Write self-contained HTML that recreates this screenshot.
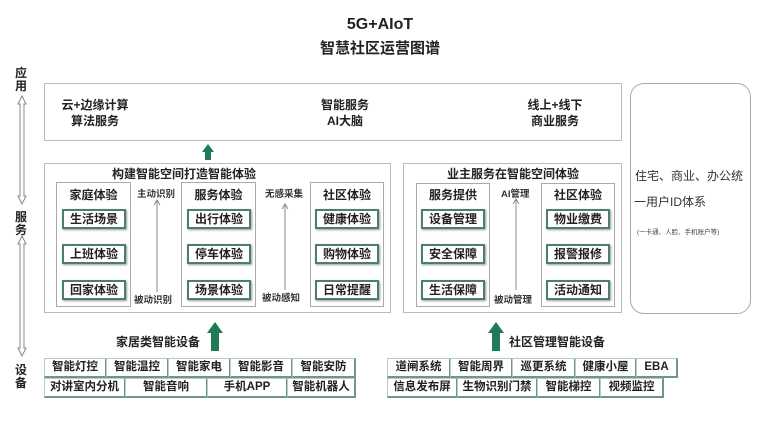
<!DOCTYPE html>
<html><head><meta charset="utf-8"><style>
*{margin:0;padding:0;box-sizing:border-box}
body{width:760px;height:428px;background:#fff;position:relative;overflow:hidden;font-family:"Liberation Sans","Noto Sans CJK SC",sans-serif;color:#222}
.a{position:absolute}
.t{font-weight:bold;text-align:center;white-space:nowrap}
.box{position:absolute;border:1px solid #bbb;background:#fff}
.sub{position:absolute;border:1px solid #aaa;background:#fff}
.it{position:absolute;width:64px;height:20px;border:2px solid #4a7f6c;box-shadow:1px 1px 2px #999;font-size:12px;font-weight:bold;text-align:center;line-height:16px;background:#fff}
.c{position:absolute;height:20px;border:1px solid #b9cbc6;border-right:2px solid #6f968c;border-bottom:2px solid #6f968c;font-size:11.5px;font-weight:bold;text-align:center;line-height:17px;background:#fff;white-space:nowrap;overflow:hidden}
.sm{font-size:9.5px;font-weight:bold;color:#333;white-space:nowrap}
</style></head><body>
<div class="a t" style="left:0;width:760px;top:16px;font-size:16px">5G+AIoT</div>
<div class="a t" style="left:0;width:760px;top:37px;font-size:15px">智慧社区运营图谱</div>

<div class="a t" style="left:14px;top:67px;font-size:12px;line-height:13px;width:14px">应<br>用</div>
<div class="a t" style="left:14px;top:211px;font-size:12px;line-height:13px;width:14px">服<br>务</div>
<div class="a t" style="left:14px;top:364px;font-size:12px;line-height:13px;width:14px">设<br>备</div>
<svg class="a" style="left:12px;top:92px" width="20" height="270">
<g fill="#fff" stroke="#888" stroke-width="1">
<path d="M6,12 L10,4 L14,12 L12,12 L12,104 L14,104 L10,112 L6,104 L8,104 L8,12Z"/>
<path d="M6,152 L10,144 L14,152 L12,152 L12,256 L14,256 L10,264 L6,256 L8,256 L8,152Z"/>
</g></svg>

<div class="box" style="left:44px;top:83px;width:578px;height:58px"></div>
<div class="a t" style="left:50px;top:97px;width:90px;font-size:12px;line-height:16px">云+边缘计算<br>算法服务</div>
<div class="a t" style="left:300px;top:97px;width:90px;font-size:12px;line-height:16px">智能服务<br>AI大脑</div>
<div class="a t" style="left:510px;top:97px;width:90px;font-size:12px;line-height:16px">线上+线下<br>商业服务</div>

<div class="a" style="left:630px;top:83px;width:121px;height:231px;border:1px solid #aaa;border-radius:14px"></div>
<div class="a" style="left:635px;top:167px;font-size:12px;white-space:nowrap;color:#333">住宅、商业、办公统</div>
<div class="a" style="left:634px;top:193px;font-size:12px;white-space:nowrap;color:#333">一用户ID体系</div>
<div class="a" style="left:637px;top:226px;font-size:6.5px;white-space:nowrap;color:#444">(一卡通、人脸、手机账户等)</div>

<div class="box" style="left:44px;top:163px;width:347px;height:150px"></div>
<div class="a t" style="left:44px;top:165px;width:280px;font-size:12px">构建智能空间打造智能体验</div>
<div class="sub" style="left:56px;top:182px;width:75px;height:125px"></div>
<div class="sub" style="left:181px;top:182px;width:75px;height:125px"></div>
<div class="sub" style="left:310px;top:182px;width:74px;height:125px"></div>
<div class="a t" style="left:56px;top:186px;width:75px;font-size:12px">家庭体验</div>
<div class="a t" style="left:181px;top:186px;width:75px;font-size:12px">服务体验</div>
<div class="a t" style="left:310px;top:186px;width:74px;font-size:12px">社区体验</div>
<div class="it" style="left:62px;top:209px">生活场景</div>
<div class="it" style="left:62px;top:244px">上班体验</div>
<div class="it" style="left:62px;top:280px">回家体验</div>
<div class="it" style="left:187px;top:209px">出行体验</div>
<div class="it" style="left:187px;top:244px">停车体验</div>
<div class="it" style="left:187px;top:280px">场景体验</div>
<div class="it" style="left:315px;top:209px">健康体验</div>
<div class="it" style="left:315px;top:244px">购物体验</div>
<div class="it" style="left:315px;top:280px">日常提醒</div>
<div class="a sm" style="left:137px;top:186px">主动识别</div>
<div class="a sm" style="left:134px;top:292px">被动识别</div>
<div class="a sm" style="left:265px;top:186px">无感采集</div>
<div class="a sm" style="left:262px;top:290px">被动感知</div>

<div class="box" style="left:403px;top:163px;width:219px;height:150px"></div>
<div class="a t" style="left:403px;top:165px;width:220px;font-size:12px">业主服务在智能空间体验</div>
<div class="sub" style="left:416px;top:183px;width:74px;height:124px"></div>
<div class="sub" style="left:541px;top:183px;width:74px;height:124px"></div>
<div class="a t" style="left:416px;top:186px;width:74px;font-size:12px">服务提供</div>
<div class="a t" style="left:541px;top:186px;width:74px;font-size:12px">社区体验</div>
<div class="it" style="left:421px;top:209px">设备管理</div>
<div class="it" style="left:421px;top:244px">安全保障</div>
<div class="it" style="left:421px;top:280px">生活保障</div>
<div class="it" style="left:546px;top:209px">物业缴费</div>
<div class="it" style="left:546px;top:244px">报警报修</div>
<div class="it" style="left:546px;top:280px">活动通知</div>
<div class="a sm" style="left:501px;top:186px">AI管理</div>
<div class="a sm" style="left:494px;top:292px">被动管理</div>

<div class="a t" style="left:116px;top:333px;font-size:12px">家居类智能设备</div>
<div class="a t" style="left:509px;top:333px;font-size:12px">社区管理智能设备</div>

<div class="c" style="left:44px;top:358px;width:63px">智能灯控</div>
<div class="c" style="left:106px;top:358px;width:63px">智能温控</div>
<div class="c" style="left:168px;top:358px;width:63px">智能家电</div>
<div class="c" style="left:230px;top:358px;width:63px">智能影音</div>
<div class="c" style="left:292px;top:358px;width:64px">智能安防</div>
<div class="c" style="left:44px;top:378px;width:82px">对讲室内分机</div>
<div class="c" style="left:125px;top:378px;width:83px">智能音响</div>
<div class="c" style="left:207px;top:378px;width:81px">手机APP</div>
<div class="c" style="left:287px;top:378px;width:69px">智能机器人</div>

<div class="c" style="left:387px;top:358px;width:64px">道闸系统</div>
<div class="c" style="left:450px;top:358px;width:63px">智能周界</div>
<div class="c" style="left:512px;top:358px;width:64px">巡更系统</div>
<div class="c" style="left:575px;top:358px;width:62px">健康小屋</div>
<div class="c" style="left:636px;top:358px;width:42px">EBA</div>
<div class="c" style="left:387px;top:378px;width:71px">信息发布屏</div>
<div class="c" style="left:457px;top:378px;width:81px">生物识别门禁</div>
<div class="c" style="left:537px;top:378px;width:64px">智能梯控</div>
<div class="c" style="left:600px;top:378px;width:64px">视频监控</div>

<svg class="a" style="left:0;top:0;pointer-events:none" width="760" height="428">
<g fill="#1f7a55">
<path d="M202,152 L208,144 L214,152 L211,152 L211,160 L205,160 L205,152Z"/>
<path d="M207,333 L215,322 L223,333 L219,333 L219,351 L211,351 L211,333Z"/>
<path d="M488,333 L496,322 L504,333 L500,333 L500,351 L492,351 L492,333Z"/>
</g>
<g stroke="#888" stroke-width="1" fill="none">
<path d="M157,201 V292 M154,205 L157,200 L160,205"/>
<path d="M285,205 V290 M282,209 L285,204 L288,209"/>
<path d="M516,200 V290 M513,204 L516,199 L519,204"/>
</g></svg>
</body></html>
